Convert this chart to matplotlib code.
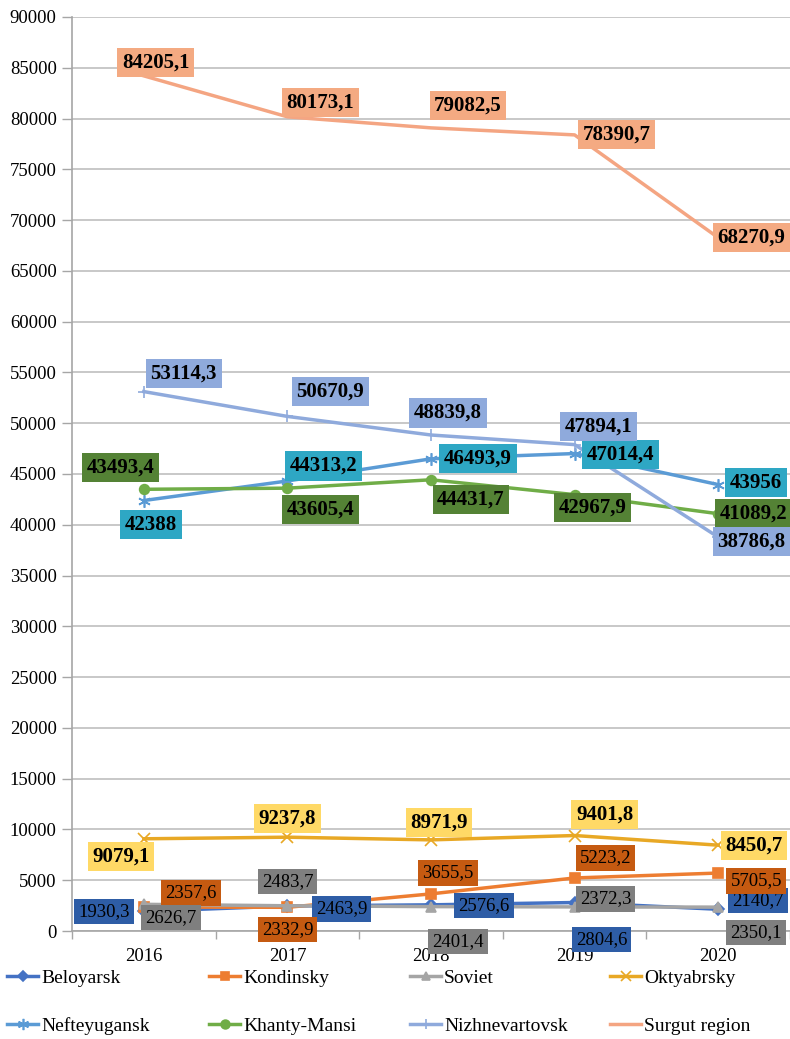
import matplotlib
matplotlib.use("Agg")
import matplotlib.pyplot as plt

years = ["2016", "2017", "2018", "2019", "2020"]
series_names = ["Beloyarsk", "Kondinsky", "Soviet", "Oktyabrsky",
                "Nefteyugansk", "Khanty-Mansi", "Nizhnevartovsk", "Surgut region"]

beloyarsk = [1930.3, 2463.9, 2576.6, 2804.6, 2140.7]
kondinsky = [2357.6, 2332.9, 3655.5, 5223.2, 5705.5]
soviet = [2626.7, 2483.7, 2401.4, 2372.3, 2350.1]
oktyabrsky = [9079.1, 9237.8, 8971.9, 9401.8, 8450.7]
nefteyugansk = [42388, 44313.2, 46493.9, 47014.4, 43956]
khanty_mansi = [43493.4, 43605.4, 44431.7, 42967.9, 41089.2]
nizhnevartovsk = [53114.3, 50670.9, 48839.8, 47894.1, 38786.8]
surgut = [84205.1, 80173.1, 79082.5, 78390.7, 68270.9]

values = [beloyarsk, kondinsky, soviet, oktyabrsky,
          nefteyugansk, khanty_mansi, nizhnevartovsk, surgut]

# styles
line_colors = ["#4472C4", "#ED7D31", "#A5A5A5", "#E8A825",
               "#5B9BD5", "#70AD47", "#8FAADC", "#F4A582"]
box_colors = ["#2E5DA6", "#C55A11", "#7F7F7F", "#FFD966",
              "#2EA7C4", "#548235", "#8FAADC", "#F4AA82"]
markers = ["D", "s", "^", "x", (6, 2, 0), "o", "+", None]
bold = [False, False, False, True, True, True, True, True]
# label offsets in pixels (dx, dy) per point
offsets = [
    [(-40, 0), (54, -3), (53, -1), (27, -37), (40, 9)],
    [(47, 14), (0, -22), (17, 21), (31, 20), (38, -8)],
    [(27, -13), (0, 24), (27, -35), (31, 8), (38, -25)],
    [(-23, -18), (0, 19), (8, 17), (30, 21), (36, 0)],
    [(7, -24), (36, 15), (47, 0), (46, -1), (38, 2)],
    [(-23, 22), (33, -21), (40, -20), (18, -13), (35, 0)],
    [(40, 18), (43, 25), (17, 22), (24, 18), (33, -4)],
    [(12, 13), (33, 14), (37, 22), (42, 0), (33, 0)],
]
# legend entry anchor positions in figure pixels (left x, center y from top)
legend_pos = [(7, 978), (209, 978), (410, 978), (610, 978),
              (7, 1026), (209, 1026), (410, 1026), (610, 1026)]

plt.rcParams['font.family'] = ['Liberation Serif', 'DejaVu Serif']

W, H = 790, 1039
fig = plt.figure(figsize=(W / 100, H / 100), dpi=100)
ax = fig.add_axes([72/W, 108/H, 1 - 72/W, (931 - 17)/H])

x = list(range(len(years)))
handles = []
for i in range(len(series_names)):
    m = markers[i]
    ms = 7
    if m == "D":
        ms = 6
    if m in ("x", "+"):
        ms = 8
    if isinstance(m, tuple):
        ms = 9
    ln, = ax.plot(x, values[i], color=line_colors[i], lw=2.5, marker=m,
                  markersize=ms, markeredgewidth=1.2, zorder=3 + i,
                  label=series_names[i], clip_on=False)
    handles.append(ln)

for i in range(len(series_names)):
    for j in range(len(years)):
        txt = f"{values[i][j]:g}".replace(".", ",")
        dx, dy = offsets[i][j]
        ax.annotate(txt, (x[j], values[i][j]), xytext=(dx, dy),
                    textcoords="offset pixels", ha="center", va="center",
                    fontsize=15 if bold[i] else 13.5,
                    fontweight="bold" if bold[i] else "normal",
                    color="black", zorder=20 + i, annotation_clip=False,
                    bbox=dict(boxstyle="square,pad=0.22", fc=box_colors[i],
                              ec="none"))

ax.set_xlim(-0.5, 4.5)
ax.set_ylim(0, 90000)
ax.set_yticks(range(0, 90001, 5000))
ax.set_yticklabels([str(v) for v in range(0, 90001, 5000)], fontsize=13.5)
ax.set_xticks(x)
ax.set_xticklabels(years, fontsize=13.5)
ax.set_xticks([k - 0.5 for k in range(6)], minor=True)
ax.tick_params(axis="x", which="major", length=0, pad=12)
ax.tick_params(axis="x", which="minor", length=6, color="#A6A6A6", width=1)
ax.tick_params(axis="y", length=7, color="#A6A6A6", width=1, pad=4)
ax.grid(axis="y", color="#BFBFBF", lw=1.2)
ax.set_axisbelow(True)
for s in ["top", "right"]:
    ax.spines[s].set_visible(False)
for s in ["left", "bottom"]:
    ax.spines[s].set_color("#A6A6A6")
    ax.spines[s].set_linewidth(1.2)

for h, (px, py) in zip(handles, legend_pos):
    fig.legend(handles=[h], loc="center left",
               bbox_to_anchor=(px / W, 1 - py / H), frameon=False,
               fontsize=14, handlelength=1.6, handletextpad=0.15,
               borderaxespad=0, borderpad=0, markerscale=0.9)

fig.savefig("out.png", dpi=100)
